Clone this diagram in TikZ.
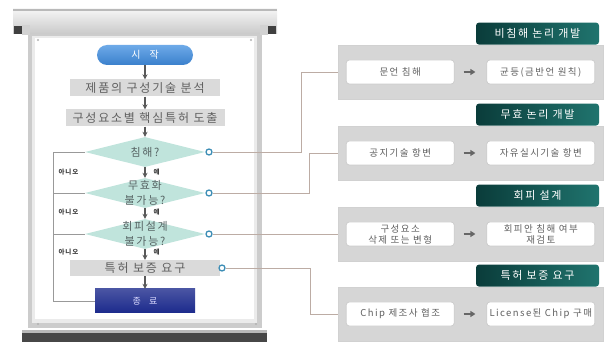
\documentclass[tikz,border=0pt]{standalone}
\usepackage{fontspec}
\usepackage{tikz}
\usetikzlibrary{arrows.meta, shapes.geometric, positioning, calc}
\newfontfamily\krfont[LetterSpace=15]{Noto Sans CJK KR}
\newfontfamily\krwide[LetterSpace=90]{Noto Sans CJK KR}
\definecolor{framegray}{RGB}{204,204,204}
\definecolor{boxgray}{RGB}{218,218,218}
\definecolor{panelgray}{RGB}{214,214,214}
\definecolor{mint}{RGB}{192,228,220}
\definecolor{startblue}{RGB}{58,128,204}
\definecolor{startlight}{RGB}{110,170,232}
\definecolor{endnavy}{RGB}{28,42,140}
\definecolor{tabdark}{RGB}{10,60,58}
\definecolor{tablight}{RGB}{32,116,110}
\definecolor{wire}{RGB}{188,172,164}
\definecolor{portblue}{RGB}{62,142,182}
\definecolor{txtgray}{RGB}{96,96,96}

\begin{document}
\begin{tikzpicture}[x=1pt, y=-1pt,
        flowbox/.style={rectangle, fill=boxgray, minimum height=17pt, inner sep=0pt, text=txtgray, font=\krfont\fontsize{12}{14}\selectfont},
        decision/.style={diamond, fill=mint, minimum width=120pt, minimum height=30pt, inner sep=0pt},
        dtext/.style={align=center, text=txtgray!90!teal, font=\krfont\fontsize{11}{15}\selectfont},
        port/.style={circle, draw=portblue, fill=white, line width=1.3pt, minimum size=6pt, inner sep=0pt},
        flow/.style={-{Stealth[length=5pt, width=5pt]}, draw=black!65, line width=1.2pt},
        wireline/.style={draw=wire, line width=0.8pt},
        tiny/.style={font=\krfont\fontsize{6.5}{7}\selectfont\bfseries, text=black!75},
        panel/.style={rectangle, fill=panelgray, draw=black!18, minimum width=265pt, minimum height=54pt, inner sep=0pt},
        tab/.style={rectangle, rounded corners=3pt, left color=tabdark, right color=tablight, minimum width=123pt, minimum height=22pt, inner sep=0pt, text=white, font=\krfont\fontsize{11}{13}\selectfont},
        cell/.style={rectangle, rounded corners=3pt, fill=white, draw=black!20, line width=0.8pt, minimum width=108pt, minimum height=24pt, inner sep=0pt, align=center, text=txtgray, font=\krfont\fontsize{9.5}{11}\selectfont},
        thenarrow/.style={-{Triangle[length=5pt, width=6pt]}, draw=black!60, line width=1.6pt, shorten <=9pt, shorten >=11pt},
    ]
        \useasboundingbox (0,0) rectangle (606,342);

        % Projection screen
        \fill[framegray] (28,34) rectangle (262,328);
        \fill[black!8] (32,36) rectangle (257,323);
        \fill[white] (35,38) rectangle (254,319);
        \shade[top color=gray!8, bottom color=gray!42] (13,9) rectangle (277,34);
        \fill[gray!55] (13,9) rectangle (277,11);
        \fill[black!75] (14,26) rectangle (22,34);
        \fill[gray!35] (22,25) rectangle (30,35);
        \fill[black!75] (268,26) rectangle (276,34);
        \fill[gray!35] (260,25) rectangle (268,35);
        \foreach \px/\py in {38/40, 251/40, 38/324, 256/324}
            \fill[gray!60] (\px,\py) circle (1.2);
        \fill[black!72] (22,330) rectangle (267,342);
        \fill[gray!55] (22,330) rectangle (267,332.5);

        % Flow
        \node[rectangle, rounded corners=10pt, top color=startlight, bottom color=startblue, minimum width=96pt, minimum height=20pt, text=white, font=\krwide\fontsize{10}{12}\selectfont] (start) at (145,55) {시작};
        \node[flowbox, minimum width=150pt] (analyse) at (145,88) {제품의 구성기술 분석};
        \node[flowbox, minimum width=159pt] (derive) at (145,118) {구성요소별 핵심특허 도출};
        \node[decision] (infringe) at (145,152) {};
        \node[dtext] at (infringe) {침해?};
        \node[decision] (invalid) at (145,193) {};
        \node[dtext] at (invalid) {무효화\\불가능?};
        \node[decision] (designaround) at (145,234) {};
        \node[dtext] at (designaround) {회피설계\\불가능?};
        \node[flowbox, minimum width=150pt, minimum height=16pt] (warranty) at (145,268) {특허 보증 요구};
        \node[rectangle, top color=endnavy!80!white, bottom color=endnavy, minimum width=100pt, minimum height=24pt, text=white!85!blue, font=\krwide\fontsize{9}{11}\selectfont] (done) at (145,301) {종료};

        \draw[flow] (start) -- (analyse);
        \draw[flow] (analyse) -- (derive);
        \draw[flow] (derive) -- (infringe);
        \draw[flow] (infringe) -- (invalid);
        \draw[flow] (invalid) -- (designaround);
        \draw[flow] (designaround) -- (warranty);
        \draw[flow] (warranty) -- (done);

        % Yes / no labels
        \foreach \ly in {172, 212, 252} {
            \node[tiny, anchor=west] at (55,\ly) {아니오};
            \node[tiny, anchor=west] at (150,\ly) {예};
        }

        % No-branch back to the end
        \coordinate (loopT) at (53,152);
        \coordinate (loopB) at (53,301);
        \draw[wireline, draw=black!40] (infringe.west) -- (loopT) -- (loopB) -- (done.west);
        \draw[wireline, draw=black!40] (invalid.west) -- (invalid.west -| loopT);
        \draw[wireline, draw=black!40] (designaround.west) -- (designaround.west -| loopT);

        % Ports
        \node[port] (c1) at (209,152) {};
        \node[port] (c2) at (209,193) {};
        \node[port] (c3) at (209,234) {};
        \node[port] (c4) at (222,268) {};

        % Strategy panels
        \foreach \i/\py/\title/\left/\right in {
                1/72/비침해 논리 개발/문언 침해/균등(금반언 원칙),
                2/153/무효 논리 개발/공지기술 항변/자유실시기술 항변,
                3/234/회피 설계/{구성요소\\삭제 또는 변형}/{회피안 침해 여부\\재검토},
                4/314/특허 보증 요구/Chip 제조사 협조/License된 Chip 구매} {
            \node[panel] (p\i) at (470.5,\py) {};
            \node[tab, above left=0pt and 4pt of p\i.north east] (t\i) {\title};
            \node[cell, right=8pt of p\i.west] (a\i) {\left};
            \node[cell, left=8pt of p\i.east] (b\i) {\right};
            \draw[thenarrow] (a\i) -- (b\i);
        }

        % Ports to panels
        \draw[wireline] (c1.east) -- ++(89,0) |- (p1.west);
        \draw[wireline] (c2.east) -- ++(97,0) |- (p2.west);
        \draw[wireline] (c3.east) -- (p3.west);
        \draw[wireline] (c4.east) -- ++(85,0) |- (p4.west);
    \end{tikzpicture}
\end{document}
